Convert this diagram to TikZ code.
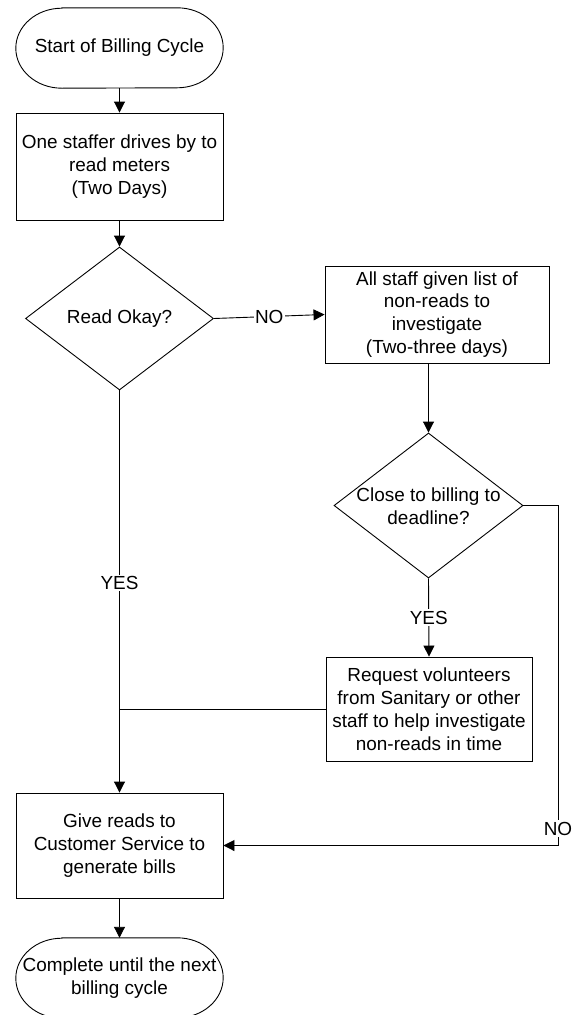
\documentclass[tikz,border=0pt]{standalone}
\usepackage{fontspec}
\setmainfont{Liberation Sans}
\usetikzlibrary{shapes.geometric,arrows.meta}
\begin{document}
\begin{tikzpicture}[x=1bp,y=1bp,
  every node/.style={font=\fontsize{19}{23}\selectfont, align=center, inner sep=0pt},
  procbox/.style={draw, rectangle, line width=0.9bp},
  termshape/.style={rectangle, minimum width=207bp, minimum height=80bp},
  decision/.style={draw, diamond, line width=0.9bp},
  conn/.style={line width=0.9bp, -{Triangle[length=11bp,width=11bp]}},
  plain/.style={line width=0.9bp},
  lbl/.style={fill=white, inner sep=1.5bp}]
\useasboundingbox (0,0) rectangle (579,-1015);
% nodes
\node[termshape] (start) at (119.5,-48) {Start of Billing Cycle};
\node[procbox, minimum width=207bp, minimum height=107bp] (read) at (119.5,-166.5)
  {One staffer drives by to\\read meters\\(Two Days)};
\node[decision, minimum width=188bp, minimum height=143bp] (ok) at (119.5,-318.5) {};
\node (okt) at (ok.center) {Read Okay?};
\node[procbox, minimum width=224bp, minimum height=97bp] (list) at (437,-314.5)
  {All staff given list of\\non-reads to\\investigate\\(Two-three days)};
\node[decision, minimum width=189bp, minimum height=145bp] (close) at (428.5,-505.5) {};
\node (closet) at ([yshift=-0.5bp]close.center) {Close to billing to\\deadline?};
\node[procbox, minimum width=206bp, minimum height=104bp] (vol) at (429,-709)
  {Request volunteers\\from Sanitary or other\\staff to help investigate\\non-reads in time};
\node[procbox, minimum width=207bp, minimum height=105bp] (give) at (119.5,-845.5)
  {Give reads to\\Customer Service to\\generate bills};
\node[termshape] (done) at (119.5,-978) {Complete until the next\\billing cycle};
% terminal outlines
\foreach \t in {start,done}{
  \draw[plain] ([xshift=46bp]\t.north west) -- ([xshift=-46bp]\t.north east)
    arc[start angle=90,end angle=-90,x radius=46bp,y radius=40bp]
    -- ([xshift=46bp]\t.south west)
    arc[start angle=270,end angle=90,x radius=46bp,y radius=40bp] -- cycle;
}
\coordinate (rc) at (558,-505.5);
\coordinate (rb) at (rc |- give.east);
\coordinate (j) at (ok.south |- vol.west);
% connectors
\draw[conn] (start) -- (read);
\draw[conn] (read) -- (ok);
\draw[conn] (ok.east) -- node[lbl] (nolbl) {NO} (list.west);
\draw[conn] (list.south -| close.north) -- (close.north);
\draw[conn] (close.south) -- node[lbl] (yeslbl2) {YES} (vol.north);
\draw[conn] (ok.south) -- node[lbl, pos=0.479] (yeslbl1) {YES} (give.north);
\draw[plain] (vol.west) -- (j);
\draw[conn] (close.east) -- (rc) -- node[lbl, pos=0.95] (nolbl2) {NO} (rb) -- (give.east);
\draw[conn] (give) -- (done.north);
\end{tikzpicture}
\end{document}
